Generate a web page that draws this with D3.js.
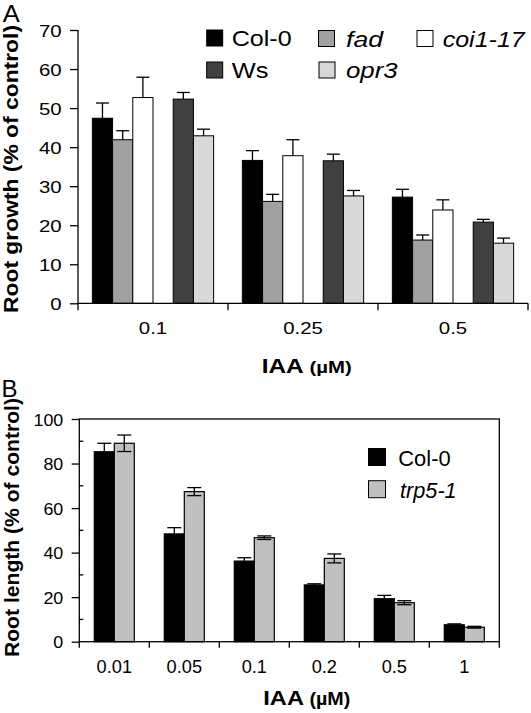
<!DOCTYPE html>
<html><head><meta charset="utf-8">
<script src="https://cdn.jsdelivr.net/npm/d3@7"></script>
<style>body{margin:0;background:#fff}svg{display:block;font-family:"Liberation Sans",Arial,sans-serif}</style>
</head><body>
<script>
// ---------- Panel A data ----------
const catsA = ["0.1", "0.25", "0.5"];
const seriesA = ["Col-0", "fad", "coi1-17", "Ws", "opr3"];
const colorsA = ["#000000", "#a0a0a0", "#ffffff", "#404040", "#d8d8d8"];
const italicA = [false, true, true, false, true];
const col0A  = [47.4, 36.6, 27.2];
const fadA   = [41.9, 26.1, 16.2];
const coiA   = [52.7, 37.8, 23.9];
const wsA    = [52.3, 36.5, 20.8];
const opr3A  = [42.9, 27.5, 15.4];
const col0AErr = [3.9, 2.5, 2.0];
const fadAErr  = [2.3, 1.8, 1.3];
const coiAErr  = [5.2, 4.1, 2.6];
const wsAErr   = [1.7, 1.7, 0.7];
const opr3AErr = [1.7, 1.4, 1.3];
const ticksA = [0, 10, 20, 30, 40, 50, 60, 70];

// ---------- Panel B data ----------
const catsB = ["0.01", "0.05", "0.1", "0.2", "0.5", "1"];
const seriesB = ["Col-0", "trp5-1"];
const colorsB = ["#000000", "#c0c0c0"];
const italicB = [false, true];
const col0B = [85.3, 48.4, 36.2, 25.5, 19.3, 7.6];
const trpB  = [89.1, 67.4, 46.7, 37.4, 17.5, 6.5];
const col0BErr = [3.8, 2.8, 1.5, 0.5, 1.5, 0.4];
const trpBErr  = [3.7, 1.8, 0.8, 2.0, 0.9, 0.4];
const ticksB = [0, 20, 40, 60, 80, 100];

const W = 531, H = 713;
const svg = d3.select("body").append("svg").attr("width", W).attr("height", H);

// Stretch text to a given length, anchored explicitly (Chrome anchors on the unstretched length)
function setLen(node, anchor, ax, len) {
  node.setAttribute("text-anchor", "start");
  node.setAttribute("textLength", len);
  node.setAttribute("lengthAdjust", "spacingAndGlyphs");
  const x0 = anchor === "end" ? ax - len : anchor === "middle" ? ax - len / 2 : ax;
  node.setAttribute("x", x0);
}
function stretchAll(sel, anchor, ax, sx) {
  sel.each(function(){
    const w = this.getComputedTextLength();
    setLen(this, anchor, ax, w * sx);
  });
}

const valsA = [col0A, fadA, coiA, wsA, opr3A];
const errsA = [col0AErr, fadAErr, coiAErr, wsAErr, opr3AErr];

// ---------- Panel A ----------
(function(){
  const L = 78, R = 528, T = 30, B = 303.3;
  const SX = 1.2;
  const y = d3.scaleLinear().domain([0, 70]).range([B, T]);
  const x0 = d3.scaleBand().domain(catsA).range([L, R]);
  const slots = ["Col-0", "fad", "coi1-17", "_gap", "Ws", "opr3"];
  const x1 = d3.scaleBand().domain(slots).range([0, x0.bandwidth()]).paddingOuter(0.71);
  const g = svg.append("g");

  seriesA.forEach((s, si) => {
    const gs = g.append("g");
    catsA.forEach((c, ci) => {
      const v = valsA[si][ci], e = errsA[si][ci];
      const bx = x0(c) + x1(s), bw = x1.bandwidth();
      const cx = bx + bw / 2;
      gs.append("line").attr("x1", cx).attr("x2", cx).attr("y1", y(v)).attr("y2", y(v + e))
        .attr("stroke", "#000").attr("stroke-width", 1.3);
      gs.append("line").attr("x1", cx - 6.5).attr("x2", cx + 6.5).attr("y1", y(v + e)).attr("y2", y(v + e))
        .attr("stroke", "#000").attr("stroke-width", 1.3);
      gs.append("rect").attr("x", bx).attr("width", bw).attr("y", y(v)).attr("height", y(0) - y(v))
        .attr("fill", colorsA[si]).attr("stroke", "#000").attr("stroke-width", 1);
    });
  });

  // y axis
  const ya = g.append("g").attr("transform", `translate(${L},0)`)
    .call(d3.axisLeft(y).tickValues(ticksA).tickSize(8).tickPadding(8).tickFormat(d3.format("d")));
  ya.select(".domain").attr("stroke-width", 1.3).attr("d", `M-0,${y(0)}V${y(70)}`);
  ya.selectAll(".tick line").attr("stroke-width", 1.3);
  ya.selectAll("text").attr("font-size", 17).attr("font-family", "Liberation Sans, Arial").attr("fill", "#000")
    .attr("dy", "0.36em");
  stretchAll(ya.selectAll("text"), "end", -16.3, SX);

  // x axis
  const xa = g.append("g").attr("transform", `translate(0,${B})`)
    .call(d3.axisBottom(x0).tickSize(0));
  xa.select(".domain").attr("stroke-width", 1.3).attr("d", `M${L},0H${R}`);
  xa.selectAll("text").attr("font-size", 17).attr("font-family", "Liberation Sans, Arial").attr("fill", "#000")
    .attr("y", 30.7).attr("dy", 0);
  stretchAll(xa.selectAll("text"), "middle", 0, SX);
  const bounds = [L].concat(catsA.map(c => x0(c) + x0.bandwidth()));
  g.selectAll(".xtA").data(bounds).enter().append("line")
    .attr("x1", d => d).attr("x2", d => d).attr("y1", B).attr("y2", B + 7)
    .attr("stroke", "#000").attr("stroke-width", 1.3);

  // titles
  const yt = g.append("text").attr("transform", `translate(17.6,313) rotate(-90)`)
    .attr("y", 0).attr("font-weight", "bold").attr("font-size", 19.5)
    .text("Root growth (% of control)");
  setLen(yt.node(), "start", 0, 288);
  const xt = g.append("text").attr("y", 373.3).attr("font-weight", "bold");
  xt.append("tspan").attr("font-size", 19.5).text("IAA");
  xt.append("tspan").attr("font-size", 16.3).text(" (µM)");
  setLen(xt.node(), "start", 261.7, 90);
  const la = g.append("text").attr("y", 21.7).attr("font-size", 23).text("A");
  setLen(la.node(), "start", 2.8, 17);

  // legend
  const legPos = [[206.7, 30], [318.5, 30.5], [417, 30.5], [206.7, 62], [319, 62]];
  const legTextX = [231.7, 346, 442.7, 231.7, 346];
  const legLen = [60, 37, 82, 36.7, 51.7];
  seriesA.forEach((s, si) => {
    const [lx, ly] = legPos[si];
    g.append("rect").attr("x", lx).attr("y", ly).attr("width", 16).attr("height", 16)
      .attr("fill", colorsA[si]).attr("stroke", "#000").attr("stroke-width", 1);
    const t = g.append("text").attr("y", ly + 16.2).attr("font-size", 22)
      .attr("font-style", italicA[si] ? "italic" : "normal").text(s);
    setLen(t.node(), "start", legTextX[si], legLen[si]);
  });
})();

// ---------- Panel B ----------
const valsB = [col0B, trpB];
const errsB = [col0BErr, trpBErr];
(function(){
  const L = 79.3, R = 499.3, T = 419, B = 641.7;
  const y = d3.scaleLinear().domain([0, 100]).range([B, T]);
  const x0 = d3.scaleBand().domain(catsB).range([L, R]);
  const x1 = d3.scaleBand().domain(seriesB).range([0, x0.bandwidth()]).paddingOuter(0.75);
  const g = svg.append("g");

  seriesB.forEach((s, si) => {
    catsB.forEach((c, ci) => {
      const v = valsB[si][ci];
      const bx = x0(c) + x1(s), bw = x1.bandwidth();
      g.append("rect").attr("x", bx).attr("width", bw).attr("y", y(v)).attr("height", y(0) - y(v))
        .attr("fill", colorsB[si]).attr("stroke", "#000").attr("stroke-width", 1.2);
    });
  });
  seriesB.forEach((s, si) => {
    catsB.forEach((c, ci) => {
      const v = valsB[si][ci], e = errsB[si][ci];
      const cx = x0(c) + x1(s) + x1.bandwidth() / 2;
      const eg = g.append("g").attr("stroke", "#000").attr("stroke-width", 1.3);
      eg.append("line").attr("x1", cx).attr("x2", cx).attr("y1", y(v - e)).attr("y2", y(v + e));
      [v - e, v + e].forEach(t => eg.append("line").attr("x1", cx - 7).attr("x2", cx + 7).attr("y1", y(t)).attr("y2", y(t)));
    });
  });

  g.append("rect").attr("x", L).attr("y", T).attr("width", R - L).attr("height", B - T)
    .attr("fill", "none").attr("stroke", "#000").attr("stroke-width", 1.3);

  const ya = g.append("g").attr("transform", `translate(${L},0)`)
    .call(d3.axisLeft(y).tickValues(ticksB).tickSize(7.6).tickPadding(8.4).tickFormat(d3.format("d")));
  ya.select(".domain").remove();
  ya.selectAll(".tick line").attr("stroke-width", 1.3);
  ya.selectAll("text").attr("font-size", 17).attr("font-family", "Liberation Sans, Arial").attr("fill", "#000")
    .attr("dy", "0.36em");
  stretchAll(ya.selectAll("text"), "end", -16, 1.05);
  const minor = d3.range(10, 100, 20);
  g.selectAll(".mtB").data(minor).enter().append("line")
    .attr("x1", L).attr("x2", L + 4).attr("y1", d => y(d)).attr("y2", d => y(d))
    .attr("stroke", "#000").attr("stroke-width", 1.3);

  const xa = g.append("g").attr("transform", `translate(0,${B})`)
    .call(d3.axisBottom(x0).tickSize(0));
  xa.select(".domain").remove();
  xa.selectAll("text").attr("font-size", 17.5).attr("font-family", "Liberation Sans, Arial").attr("fill", "#000")
    .attr("y", 31).attr("dy", 0);
  stretchAll(xa.selectAll("text"), "middle", 0, 1.04);
  const bounds = [L].concat(catsB.map(c => x0(c) + x0.bandwidth()));
  g.selectAll(".xtB").data(bounds).enter().append("line")
    .attr("x1", d => d).attr("x2", d => d).attr("y1", B).attr("y2", B + 6)
    .attr("stroke", "#000").attr("stroke-width", 1.3);

  const yt = g.append("text").attr("transform", `translate(18.6,657) rotate(-90)`)
    .attr("y", 0).attr("font-weight", "bold").attr("font-size", 19.5)
    .text("Root length (% of control)");
  setLen(yt.node(), "start", 0, 259);
  const xt = g.append("text").attr("y", 705).attr("font-weight", "bold");
  xt.append("tspan").attr("font-size", 21).text("IAA");
  xt.append("tspan").attr("font-size", 17.5).text(" (µM)");
  setLen(xt.node(), "start", 263.3, 87);
  g.append("text").attr("x", 1.5).attr("y", 396.7).attr("font-size", 24).text("B");

  const legPos = [[368.5, 448.5], [368.5, 480.7]];
  const legLen = [52.3, 56.7];
  seriesB.forEach((s, si) => {
    const [lx, ly] = legPos[si];
    g.append("rect").attr("x", lx).attr("y", ly).attr("width", 17).attr("height", 17)
      .attr("fill", colorsB[si]).attr("stroke", "#000").attr("stroke-width", 1);
    const t = g.append("text").attr("y", ly + 17.4).attr("font-size", 22)
      .attr("font-style", italicB[si] ? "italic" : "normal").text(s);
    setLen(t.node(), "start", si ? 400 : 398.3, legLen[si]);
  });
})();
</script>
</body></html>
